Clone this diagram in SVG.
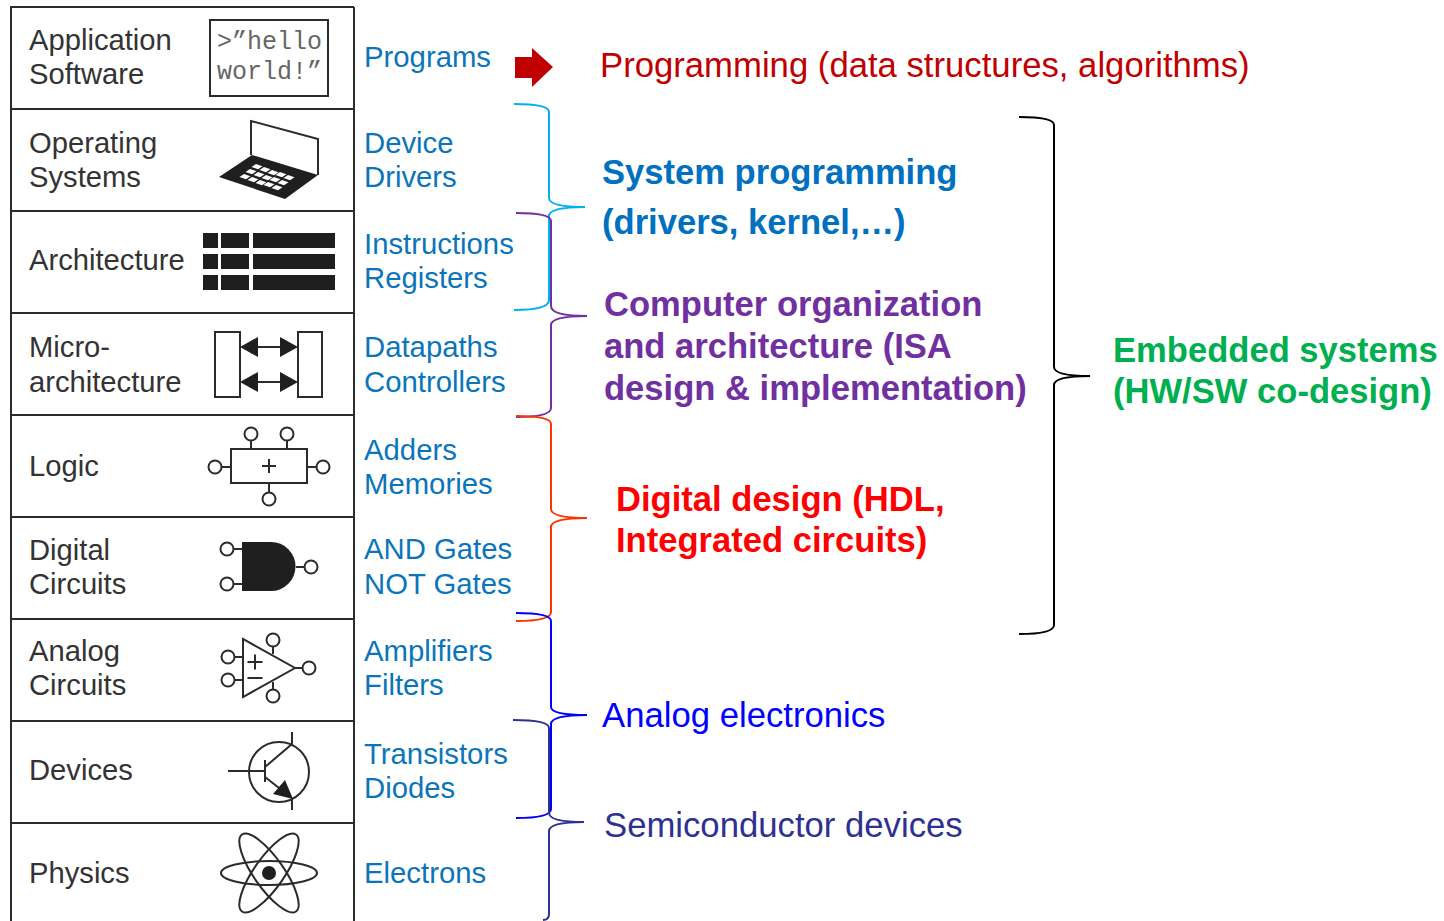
<svg xmlns="http://www.w3.org/2000/svg" xmlns:xlink="http://www.w3.org/1999/xlink" width="1444" height="921" viewBox="0 0 1444 921">
<style>
text{font-family:"Liberation Sans",Arial,sans-serif}
.l{font-size:29.200px;fill:#333}
.m{font-size:29.300px;fill:#0b75bb}
.h{font-size:34.700px}
.b{font-size:34.600px;font-weight:bold}
.mono{font-family:"Liberation Mono",monospace;font-size:25px;fill:#666}
.grid{stroke:#2b2b2b;stroke-width:2;fill:none}
.ic{stroke:#2b2b2b;stroke-width:2;fill:none}
.ico{stroke:#2b2b2b;stroke-width:2;fill:#fff}
.k{fill:#1f1f1f}
.br{fill:none;stroke-width:2}
</style>
<defs>
<polygon id="key" points="0,0 6.500,2.200 2,5.200 -4.500,3" fill="#fff"/>
</defs>
<rect width="1444" height="921" fill="#fff"/>
<g id="table" class="grid">
<path d="M354 7H11V921M354 7V921M11 109H354M11 211H354M11 313H354M11 415H354M11 517H354M11 619H354M11 721H354M11 823H354"/>
</g>
<g id="n-app">
<text class="l" x="29" y="50">Application</text><text class="l" x="29" y="84">Software</text>
<rect class="ic" x="210" y="20" width="118" height="76"/>
<text class="mono" x="217" y="49">&gt;”hello</text><text class="mono" x="217" y="79">world!”</text>
</g>
<g id="n-os">
<text class="l" x="29" y="153">Operating</text><text class="l" x="29" y="187">Systems</text>
<path class="ic" d="M251 155V121L318 139V175"/>
<polygon class="k" points="219,177 252,155 318,175 285,199"/>
<g id="keys">
<use xlink:href="#key" x="256" y="164"/><use xlink:href="#key" x="264" y="167"/><use xlink:href="#key" x="272" y="170"/><use xlink:href="#key" x="280" y="172"/><use xlink:href="#key" x="288" y="175"/>
<use xlink:href="#key" x="250" y="169"/><use xlink:href="#key" x="258" y="172"/><use xlink:href="#key" x="266" y="175"/><use xlink:href="#key" x="274" y="177"/><use xlink:href="#key" x="282" y="180"/>
<use xlink:href="#key" x="244" y="174"/><use xlink:href="#key" x="252" y="177"/><use xlink:href="#key" x="260" y="180"/><use xlink:href="#key" x="268" y="182"/><use xlink:href="#key" x="276" y="185"/>
</g>
</g>
<g id="n-arch">
<text class="l" x="29" y="270">Architecture</text>
<g class="k">
<rect x="203" y="233" width="15" height="15"/><rect x="221" y="233" width="28" height="15"/><rect x="253" y="233" width="82" height="15"/>
<rect x="203" y="254" width="15" height="15"/><rect x="221" y="254" width="28" height="15"/><rect x="253" y="254" width="82" height="15"/>
<rect x="203" y="275" width="15" height="15"/><rect x="221" y="275" width="28" height="15"/><rect x="253" y="275" width="82" height="15"/>
</g>
</g>
<g id="n-micro">
<text class="l" x="29" y="357">Micro-</text><text class="l" x="29" y="392">architecture</text>
<rect class="ic" x="215" y="332" width="25" height="65"/><rect class="ic" x="298" y="332" width="24" height="65"/>
<path class="ic" d="M250 347H288M250 382H288"/>
<path class="k" d="M240 347L258 337V357ZM298 347L280 337V357ZM240 382L258 372V392ZM298 382L280 372V392Z"/>
</g>
<g id="n-logic">
<text class="l" x="29" y="476">Logic</text>
<path class="ic" d="M251 440V449M287 440V449M222 467H231M307 467H316M269 483V492M262 466H276M269 459V473"/>
<rect class="ic" x="231" y="449" width="76" height="34"/>
<circle class="ico" cx="251" cy="434" r="6.500"/><circle class="ico" cx="287" cy="434" r="6.500"/><circle class="ico" cx="215" cy="467" r="6.500"/><circle class="ico" cx="323" cy="467" r="6.500"/><circle class="ico" cx="269" cy="499" r="6.500"/>
</g>
<g id="n-digital">
<text class="l" x="29" y="560">Digital</text><text class="l" x="29" y="594">Circuits</text>
<path class="ic" d="M233 549H242M233 584H242M296 567H305"/>
<path class="k" d="M242 542H271A24.500 24.500 0 0 1 271 591H242Z"/>
<circle class="ico" cx="227" cy="549" r="6.500"/><circle class="ico" cx="227" cy="584" r="6.500"/><circle class="ico" cx="311" cy="567" r="6.500"/>
</g>
<g id="n-analog">
<text class="l" x="29" y="661">Analog</text><text class="l" x="29" y="695">Circuits</text>
<path class="ic" d="M234 657H243M234 680H243M295 668H303M273 647V654M273 682V690M247.500 662H262.500M255 654.500V669.500M247.500 678H262.500"/>
<polygon class="ic" points="243,639 243,697 295,668"/>
<circle class="ico" cx="228" cy="657" r="6.500"/><circle class="ico" cx="228" cy="680" r="6.500"/><circle class="ico" cx="273" cy="640" r="6.500"/><circle class="ico" cx="273" cy="696" r="6.500"/><circle class="ico" cx="309" cy="668" r="6.500"/>
</g>
<g id="n-devices">
<text class="l" x="29" y="780">Devices</text>
<circle class="ic" cx="279" cy="772" r="30"/>
<path class="ic" d="M228 771H265M265 760V782M265 767L292 744V732M265 777L288 795M292 798V810"/>
<polygon class="k" points="293,799 285,780 273,794"/>
</g>
<g id="n-physics">
<text class="l" x="29" y="883">Physics</text>
<ellipse class="ic" cx="269" cy="873" rx="48" ry="12"/>
<ellipse class="ic" cx="269" cy="873" rx="47" ry="15" transform="rotate(55 269 873)"/>
<ellipse class="ic" cx="269" cy="873" rx="47" ry="15" transform="rotate(-55 269 873)"/>
<circle class="k" cx="269" cy="873" r="7"/>
</g>
<g id="mid-labels">
<text class="m" x="364" y="67">Programs</text>
<text class="m" x="364" y="153">Device</text><text class="m" x="364" y="187">Drivers</text>
<text class="m" x="364" y="254">Instructions</text><text class="m" x="364" y="288">Registers</text>
<text class="m" x="364" y="357">Datapaths</text><text class="m" x="364" y="392">Controllers</text>
<text class="m" x="364" y="460">Adders</text><text class="m" x="364" y="494">Memories</text>
<text class="m" x="364" y="559">AND Gates</text><text class="m" x="364" y="594">NOT Gates</text>
<text class="m" x="364" y="661">Amplifiers</text><text class="m" x="364" y="695">Filters</text>
<text class="m" x="364" y="764">Transistors</text><text class="m" x="364" y="798">Diodes</text>
<text class="m" x="364" y="883">Electrons</text>
</g>
<g id="connectors">
<polygon fill="#c00000" points="515,57 532,57 532,48 553,67 532,87 532,78 515,78"/>
<path class="br" stroke="#00b0f0" d="M514 104Q549 104 549 112V198Q549 207 585 207Q549 207 549 216V300Q549 310 514 310"/>
<path class="br" stroke="#7030a0" d="M516 213Q551 213 551 221V306Q551 316 587 316Q551 316 551 325V408Q551 417 516 417"/>
<path class="br" stroke="#ff3300" d="M516 416Q551 416 551 424V509Q551 518 587 518Q551 518 551 527V612Q551 621 516 621"/>
<path class="br" stroke="#0000ff" d="M516 613Q551 613 551 621V707Q551 715 587 715Q551 715 551 724V809Q551 818 516 818"/>
<path class="br" stroke="#2e3192" d="M513 720Q549 720 549 728V813Q549 822 584 822Q549 822 549 831V914Q549 920 543 920"/>
<path class="br" stroke="#000" d="M1019 117Q1054 117 1054 125V367Q1054 376 1090 376Q1054 376 1054 385V625Q1054 634 1019 634"/>
</g>
<g id="right-labels">
<text class="h" x="600" y="77" fill="#c00000">Programming (data structures, algorithms)</text>
<text class="b" x="602" y="184" fill="#0070c0">System programming</text><text class="b" x="602" y="234" fill="#0070c0">(drivers, kernel,…)</text>
<text class="b" x="604" y="316" fill="#7030a0">Computer organization</text><text class="b" x="604" y="358" fill="#7030a0">and architecture (ISA</text><text class="b" x="604" y="400" fill="#7030a0">design &amp; implementation)</text>
<text class="b" x="616" y="511" fill="#ff0000">Digital design (HDL,</text><text class="b" x="616" y="552" fill="#ff0000">Integrated circuits)</text>
<text class="h" x="602" y="727" fill="#0000ff">Analog electronics</text>
<text class="h" x="604" y="837" fill="#2e3192">Semiconductor devices</text>
<text class="b" x="1113" y="362" fill="#00b050">Embedded systems</text><text class="b" x="1113" y="403" fill="#00b050">(HW/SW co-design)</text>
</g>
</svg>
